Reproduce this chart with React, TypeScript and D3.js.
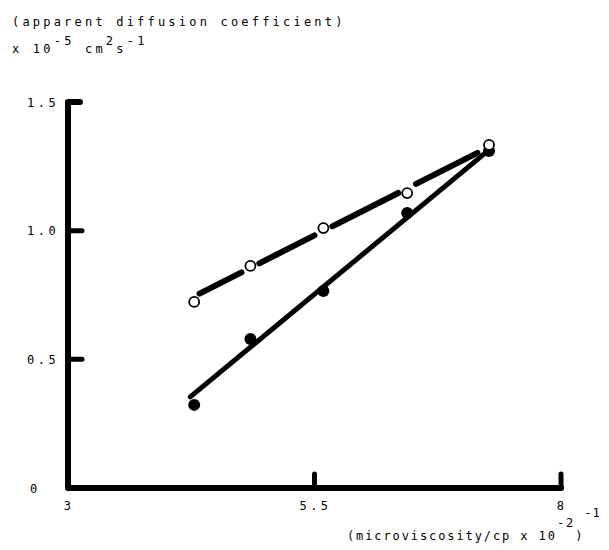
import React, { useEffect, useRef } from 'react';
import * as d3 from 'd3';

const WIDTH = 609;
const HEIGHT = 550;
const FONT = "'DejaVu Sans Mono', 'Liberation Mono', monospace";

const xTicks = [3, 5.5, 8];
const xTickLabels = ['3', '5.5', '8'];
const yTicks = [0, 0.5, 1.0, 1.5];
const yTickLabels = ['0', '0.5', '1.0', '1.5'];

// (microviscosity/cp x 10^-2)^-1
const viscX = [4.28, 4.85, 5.59, 6.44, 7.27];
// open circles
const openY = [0.723, 0.863, 1.01, 1.146, 1.333];
// filled circles
const filledY = [0.323, 0.579, 0.766, 1.069, 1.31];

// fitted lines, [x, y] ends
const openFit = [[4.28, 0.745], [7.27, 1.325]];
const filledFit = [[4.24, 0.354], [7.27, 1.314]];

export default function App() {
  const ref = useRef<SVGSVGElement>(null);

  useEffect(() => {
    const svg = d3.select(ref.current);
    svg.selectAll('*').remove();

    const x = d3.scaleLinear().domain([3, 8]).range([68, 561]);
    const y = d3.scaleLinear().domain([0, 1.5]).range([488, 102]);

    svg.append('rect').attr('width', WIDTH).attr('height', HEIGHT).attr('fill', '#fff');

    // axes, drawn by hand to get the thick pen look
    const axis = svg.append('g')
      .attr('stroke', '#000')
      .attr('stroke-width', 6)
      .attr('stroke-linecap', 'round')
      .attr('stroke-linejoin', 'round')
      .attr('fill', 'none');

    axis.append('path')
      .attr('d', `M${x(3) + 12},${y(1.5)} L${x(3)},${y(1.5)} L${x(3)},${y(0)} L${x(8)},${y(0)}`);

    yTicks.filter(t => t > 0 && t < 1.5).forEach(t => {
      axis.append('line')
        .attr('x1', x(3)).attr('x2', x(3) + 14)
        .attr('y1', y(t)).attr('y2', y(t))
        .attr('stroke-width', 5);
    });
    xTicks.filter(t => t > 3).forEach(t => {
      axis.append('line')
        .attr('x1', x(t)).attr('x2', x(t))
        .attr('y1', y(0)).attr('y2', y(0) - 14)
        .attr('stroke-width', 5);
    });

    const txt = svg.append('g')
      .attr('font-family', FONT)
      .attr('font-size', 12)
      .attr('fill', '#000');

    yTicks.forEach((t, i) => {
      txt.append('text')
        .attr('x', t === 0 ? 30 : 27)
        .attr('y', y(t) + 4.5)
        .attr('letter-spacing', 3.5)
        .text(yTickLabels[i]);
    });

    xTicks.forEach((t, i) => {
      txt.append('text')
        .attr('x', x(t) + 1)
        .attr('y', 510)
        .attr('text-anchor', 'middle')
        .attr('letter-spacing', 3.5)
        .text(xTickLabels[i]);
    });

    // y axis title
    txt.append('text')
      .attr('x', 12).attr('y', 26)
      .attr('letter-spacing', 3.2)
      .text('(apparent diffusion coefficient)');
    const yl = txt.append('text')
      .attr('x', 12).attr('y', 53)
      .attr('letter-spacing', 3.2);
    yl.append('tspan').text('x 10');
    yl.append('tspan').attr('dy', -8).text('-5');
    yl.append('tspan').attr('dy', 8).text(' cm');
    yl.append('tspan').attr('dy', -8).text('2');
    yl.append('tspan').attr('dy', 8).text('s');
    yl.append('tspan').attr('dy', -8).text('-1');

    // x axis title
    const xl = txt.append('text')
      .attr('x', 347).attr('y', 540)
      .attr('letter-spacing', 1.9);
    xl.append('tspan').text('(microviscosity/cp x 10');
    xl.append('tspan').attr('dy', -13).text('-2');
    xl.append('tspan').attr('dy', 13).text(')');
    xl.append('tspan').attr('dy', -23).attr('letter-spacing', 1).text('-1');

    // solid fitted line
    svg.append('line')
      .attr('x1', x(filledFit[0][0])).attr('y1', y(filledFit[0][1]))
      .attr('x2', x(filledFit[1][0])).attr('y2', y(filledFit[1][1]))
      .attr('stroke', '#000')
      .attr('stroke-width', 5)
      .attr('stroke-linecap', 'round');

    // broken fitted line, gaps at the open circles
    const fitY = (v: number) => openFit[0][1] + (v - openFit[0][0]) * (openFit[1][1] - openFit[0][1]) / (openFit[1][0] - openFit[0][0]);
    for (let i = 0; i < viscX.length - 1; i++) {
      const x1 = x(viscX[i]), y1 = y(fitY(viscX[i]));
      const x2 = x(viscX[i + 1]), y2 = y(fitY(viscX[i + 1]));
      const len = Math.hypot(x2 - x1, y2 - y1);
      const ux = (x2 - x1) / len, uy = (y2 - y1) / len;
      const g0 = i === 0 ? 6 : 10;
      const g1 = i === viscX.length - 2 ? 13 : 10;
      svg.append('line')
        .attr('x1', x1 + ux * g0).attr('y1', y1 + uy * g0)
        .attr('x2', x2 - ux * g1).attr('y2', y2 - uy * g1)
        .attr('stroke', '#000')
        .attr('stroke-width', 6)
        .attr('stroke-linecap', 'round');
    }

    svg.append('g').selectAll('circle')
      .data(viscX)
      .enter().append('circle')
      .attr('cx', d => x(d))
      .attr('cy', (d, i) => y(filledY[i]))
      .attr('r', 6)
      .attr('fill', '#000');

    svg.append('g').selectAll('circle')
      .data(viscX)
      .enter().append('circle')
      .attr('cx', d => x(d))
      .attr('cy', (d, i) => y(openY[i]))
      .attr('r', 5)
      .attr('fill', '#fff')
      .attr('stroke', '#000')
      .attr('stroke-width', 1.8);
  }, []);

  return (
    <svg
      ref={ref}
      width={WIDTH}
      height={HEIGHT}
      style={{ position: 'absolute', left: 0, top: 0 }}
      xmlns="http://www.w3.org/2000/svg"
    />
  );
}
